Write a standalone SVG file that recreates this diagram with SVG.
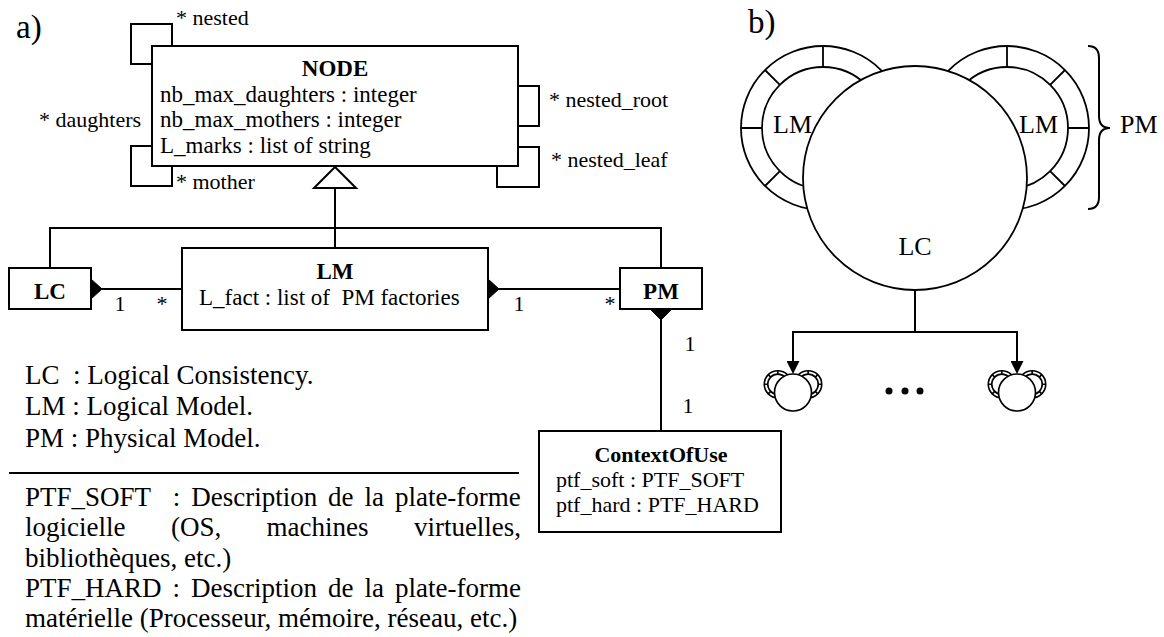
<svg xmlns="http://www.w3.org/2000/svg" xmlns:xlink="http://www.w3.org/1999/xlink" width="1164" height="637" viewBox="0 0 1164 637">
<style>
text{font-family:"Liberation Serif","Times New Roman",serif;fill:#000}
.t{font-size:23px}
.l{font-size:22px}
.b{font-weight:bold}
.lg{font-size:27px}
.bt{font-size:26px}
.c{text-anchor:middle}
.box{fill:#fff;stroke:#000;stroke-width:2}
.ln{fill:none;stroke:#000;stroke-width:2}
.dia{fill:#000;stroke:#000;stroke-width:1}
.ring{fill:#fff;stroke:#000}
.tk{stroke:#000;fill:none}
</style>
<defs>
<marker id="arr" markerWidth="14" markerHeight="13" refX="13" refY="6.5" orient="auto" markerUnits="userSpaceOnUse">
<path d="M0,0 L13,6.5 L0,13 Z" fill="#000"/>
</marker>
<g id="lcm">
<circle class="ring" cx="-92" cy="-50" r="82"/>
<circle class="ring" cx="-92" cy="-50" r="61"/>
<path class="tk" d="M-92,-111V-132 M-135.1,-93.1L-150,-108 M-153,-50H-174 M-135.1,-6.9L-150,8"/>
<circle class="ring" cx="92" cy="-50" r="82"/>
<circle class="ring" cx="92" cy="-50" r="61"/>
<path class="tk" d="M92,-111V-132 M135.1,-93.1L150,-108 M153,-50H174 M135.1,-6.9L150,8"/>
<circle class="ring" cx="0" cy="0" r="112"/>
</g>
</defs>
<rect width="1164" height="637" fill="#fff"/>

<text x="16" y="38" style="font-size:33px">a)</text>
<text x="748" y="33" style="font-size:33px">b)</text>

<g id="connectors">
<path class="ln" d="M172,46V24H131V64H152"/>
<path class="ln" d="M152,146H131V186H172V166"/>
<path class="ln" d="M518,86H539V126H518"/>
<path class="ln" d="M518,147H539V187H497V166"/>
<path class="ln" d="M335,188V248"/>
<path class="ln" d="M50,268V228H661V268"/>
<polygon points="335,167 314,188 356,188" fill="#fff" stroke="#000" stroke-width="2"/>
<path class="ln" d="M102,289H182"/>
<polygon class="dia" points="80,289 91,279 102,289 91,299"/>
<path class="ln" d="M499,289H620"/>
<polygon class="dia" points="477,289 488,279 499,289 488,299"/>
<path class="ln" d="M661,320V431"/>
<polygon class="dia" points="650,309 661,298 672,309 661,320"/>
<text class="l" x="176" y="25">* nested</text>
<text class="l" x="39" y="127">* daughters</text>
<text class="l" x="176" y="189">* mother</text>
<text class="l" x="549" y="107">* nested_root</text>
<text class="l" x="551" y="167">* nested_leaf</text>
<text class="l c" x="120" y="311">1</text>
<text class="l c" x="162" y="311">*</text>
<text class="l c" x="519" y="311">1</text>
<text class="l c" x="610" y="311">*</text>
<text class="l c" x="690" y="351">1</text>
<text class="l c" x="688" y="413">1</text>
<path d="M915,290V332 M915,332H793V364 M915,332H1017V364" fill="none" stroke="#000" stroke-width="2"/>
<path d="M793,340V374" fill="none" stroke="none" marker-end="url(#arr)"/>
<path d="M1017,340V374" fill="none" stroke="none" marker-end="url(#arr)"/>
</g>

<g id="node-NODE">
<rect class="box" x="152" y="46" width="366" height="120"/>
<text class="t b c" x="335" y="76">NODE</text>
<text class="t" x="160" y="101.5">nb_max_daughters : integer</text>
<text class="t" x="160" y="127">nb_max_mothers : integer</text>
<text class="t" x="160" y="152.5">L_marks : list of string</text>
</g>

<g id="node-LC">
<rect class="box" x="9" y="268" width="82" height="41"/>
<text class="t b c" x="50" y="299">LC</text>
</g>

<g id="node-LM">
<rect class="box" x="182" y="248" width="306" height="82"/>
<text class="t b c" x="335" y="279">LM</text>
<text class="t" x="199" y="305" xml:space="preserve">L_fact : list of  PM factories</text>
</g>

<g id="node-PM">
<rect class="box" x="620" y="268" width="82" height="41"/>
<text class="t b c" x="661" y="299">PM</text>
</g>

<g id="node-ContextOfUse">
<rect class="box" x="539" y="431" width="242" height="101"/>
<text class="l b c" x="661" y="462">ContextOfUse</text>
<text class="l" x="556" y="487">ptf_soft : PTF_SOFT</text>
<text class="l" x="556" y="512">ptf_hard : PTF_HARD</text>
</g>

<g id="legend">
<text class="lg" x="25" y="384" xml:space="preserve">LC  : Logical Consistency.</text>
<text class="lg" x="25" y="415">LM : Logical Model.</text>
<text class="lg" x="25" y="447">PM : Physical Model.</text>
<line x1="9" y1="473" x2="519" y2="473" stroke="#000" stroke-width="2"/>
<text class="lg" y="506"><tspan x="25">PTF_SOFT</tspan><tspan x="172.8">:</tspan><tspan x="191.2">Description</tspan><tspan x="328.1">de</tspan><tspan x="364.5">la</tspan><tspan x="394.9">plate-forme</tspan></text>
<text class="lg" y="536"><tspan x="25">logicielle</tspan><tspan x="170.9">(OS,</tspan><tspan x="266.5">machines</tspan><tspan x="413.9">virtuelles,</tspan></text>
<text class="lg" x="25" y="567">bibliothèques, etc.)</text>
<text class="lg" y="597"><tspan x="25">PTF_HARD</tspan><tspan x="172.5">:</tspan><tspan x="191">Description</tspan><tspan x="328">de</tspan><tspan x="364.5">la</tspan><tspan x="395">plate-forme</tspan></text>
<text class="lg" x="25" y="627">matérielle (Processeur, mémoire, réseau, etc.)</text>
</g>

<g id="node-LCbig">
<use xlink:href="#lcm" href="#lcm" transform="translate(915,178)" stroke-width="1.8"/>
<text class="bt" x="773" y="133">LM</text>
<text class="bt" x="1019" y="133">LM</text>
<text class="bt c" x="915" y="255">LC</text>
</g>

<g id="brace-PM">
<path d="M1088,46Q1099,46 1099,58V116Q1099,128 1110,128Q1099,128 1099,140V197Q1099,209 1088,209" fill="none" stroke="#000" stroke-width="2"/>
<text class="bt" x="1120" y="133">PM</text>
</g>

<g id="node-small1">
<use xlink:href="#lcm" href="#lcm" transform="translate(793,392.5) scale(0.165)" stroke-width="10"/>
</g>
<g id="node-small2">
<use xlink:href="#lcm" href="#lcm" transform="translate(1017,392.5) scale(0.165)" stroke-width="10"/>
</g>
<g id="dots">
<circle cx="889" cy="391" r="3.5"/>
<circle cx="905" cy="391" r="3.5"/>
<circle cx="920" cy="391" r="3.5"/>
</g>
</svg>
